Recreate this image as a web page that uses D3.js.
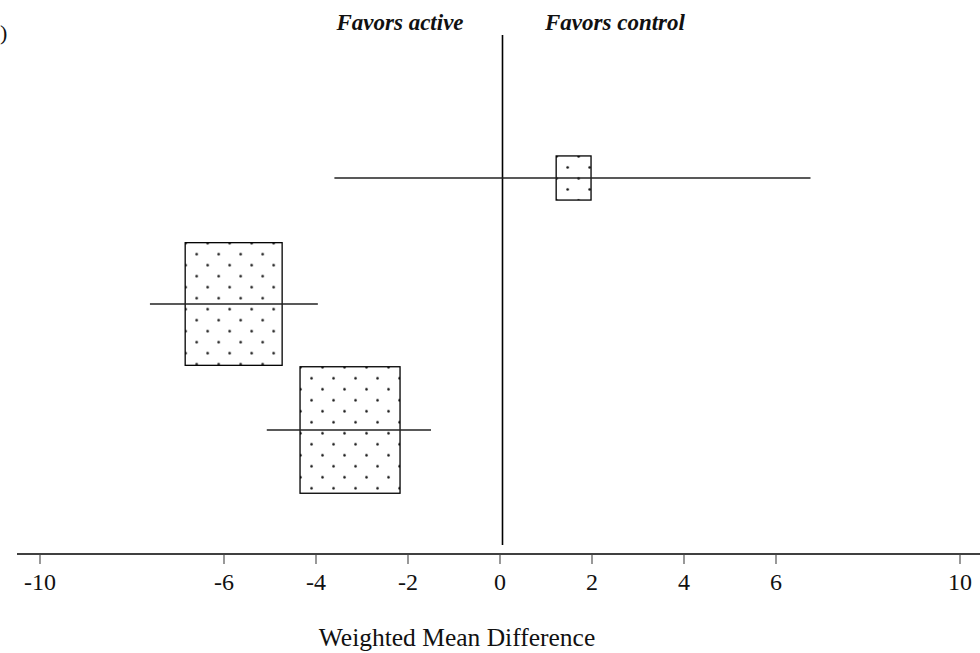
<!DOCTYPE html>
<html>
<head>
<meta charset="utf-8">
<script src="https://cdn.jsdelivr.net/npm/d3@7"></script>
<style>
  html, body { margin: 0; padding: 0; background: #fff; }
  svg { display: block; }
  text { font-family: "Liberation Serif", "Times New Roman", serif; fill: #111; }
</style>
</head>
<body>
<svg id="chart" width="980" height="653"></svg>
<script>
// ---- data ----
const studies   = ["Study 1", "Study 2", "Study 3"];
const rows      = [1, 2, 3];
const means     = [1.6, -5.79, -3.26];
const ciLow     = [-3.6, -7.61, -5.07];
const ciHigh    = [6.75, -3.96, -1.50];
const weights   = [5.9, 45.6, 48.5];   // percent
const tickVals  = [-10, -6, -4, -2, 0, 2, 4, 6, 10];
const tickLabels = ["-10", "-6", "-4", "-2", "0", "2", "4", "6", "10"];
const favorsLeft  = "Favors active";
const favorsRight = "Favors control";
const xTitle = "Weighted Mean Difference";
const cornerLabel = ")";

// ---- chart ----
const svg = d3.select("#chart");
const x = d3.scaleLinear().domain([-10, 10]).range([40, 960]);
const y = d3.scaleLinear().domain([0, 4]).range([52, 556]);
const size = d3.scaleSqrt().domain([0, 48.5]).range([0, 100]);
const aspect = 1.265;

const defs = svg.append("defs");

// corner fragment of a panel label
svg.append("text").attr("x", 0).attr("y", 40)
  .style("font-size", "22px").text(cornerLabel);

// zero line
svg.append("line")
  .attr("x1", x(0) + 2.5).attr("x2", x(0) + 2.5)
  .attr("y1", 35).attr("y2", 545)
  .attr("stroke", "#000").attr("stroke-width", 1.6);

// favors labels
[[favorsLeft, 400], [favorsRight, 615]].forEach(([t, cx]) => {
  svg.append("text").attr("x", cx).attr("y", 30).attr("text-anchor", "middle")
    .style("font-size", "23px").style("font-weight", "bold").style("font-style", "italic")
    .text(t);
});

// studies
const data = studies.map((s, i) => ({
  name: s, row: rows[i], m: means[i], lo: ciLow[i], hi: ciHigh[i], w: weights[i]
}));

data.forEach((d, i) => {
  const bw = size(d.w), bh = bw * aspect;
  const bx = x(d.m) - bw / 2, by = y(d.row) - bh / 2;
  const pid = "dots" + i;
  const p = defs.append("pattern").attr("id", pid)
    .attr("patternUnits", "userSpaceOnUse")
    .attr("x", bx).attr("y", by).attr("width", 22).attr("height", 22);
  p.append("rect").attr("width", 22).attr("height", 22).attr("fill", "#fff");
  [[0, 0], [22, 0], [0, 22], [22, 22], [11, 11]].forEach(([px, py]) => {
    p.append("circle").attr("cx", px + 0.5).attr("cy", py + 0.5).attr("r", 1.3).attr("fill", "#111");
  });

  svg.append("rect")
    .attr("x", bx).attr("y", by).attr("width", bw).attr("height", bh)
    .attr("fill", `url(#${pid})`).attr("stroke", "#000").attr("stroke-width", 1.3);

  svg.append("line")
    .attr("x1", x(d.lo)).attr("x2", x(d.hi))
    .attr("y1", y(d.row)).attr("y2", y(d.row))
    .attr("stroke", "#222").attr("stroke-width", 1.3);
});

// x axis
const axisY = 554;
svg.append("line").attr("x1", 17).attr("x2", 980).attr("y1", axisY).attr("y2", axisY)
  .attr("stroke", "#000").attr("stroke-width", 1.5);
const ticks = svg.append("g");
tickVals.forEach((v, i) => {
  ticks.append("line").attr("x1", x(v)).attr("x2", x(v))
    .attr("y1", axisY).attr("y2", axisY + 10)
    .attr("stroke", "#444").attr("stroke-width", 1.1);
  ticks.append("text").attr("x", x(v)).attr("y", 590).attr("text-anchor", "middle")
    .style("font-size", "24px").text(tickLabels[i]);
});

svg.append("text").attr("x", 457).attr("y", 646).attr("text-anchor", "middle")
  .style("font-size", "25.5px").text(xTitle);
</script>
</body>
</html>
